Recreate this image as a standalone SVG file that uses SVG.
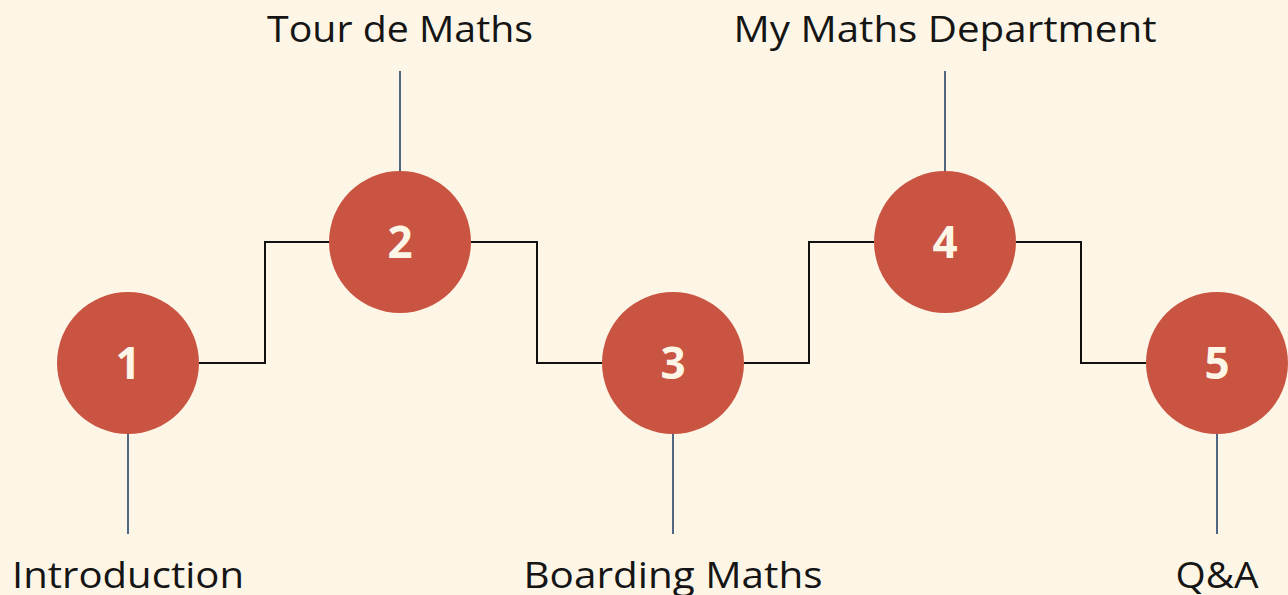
<svg xmlns="http://www.w3.org/2000/svg" width="1288" height="595" viewBox="0 0 1288 595">
  <style>
    .bg { fill: #fdf6e7; }
    .step { fill: #c95441; }
    .num { font-family: "Open Sans", "Liberation Sans", sans-serif; font-weight: 700; font-size: 44px; fill: #fdf6e7; text-anchor: middle; }
    .label { font-family: "Open Sans", "Liberation Sans", sans-serif; font-size: 36px; fill: #151515; text-anchor: middle; }
    .path { fill: none; stroke: #111; stroke-width: 2; }
    .stem { stroke: #4f6783; stroke-width: 2; }
  </style>
  <rect class="bg" x="0" y="0" width="1288" height="595"/>

  <!-- stepped path linking the agenda items -->
  <g id="connectors">
    <polyline class="path" points="199,363 265,363 265,242 330,242"/>
    <polyline class="path" points="471,242 537,242 537,363 602,363"/>
    <polyline class="path" points="744,363 809,363 809,242 874,242"/>
    <polyline class="path" points="1016,242 1081,242 1081,363 1146,363"/>
    <line class="stem" x1="128" y1="434" x2="128" y2="534"/>
    <line class="stem" x1="400" y1="71" x2="400" y2="171"/>
    <line class="stem" x1="673" y1="434" x2="673" y2="534"/>
    <line class="stem" x1="945" y1="71" x2="945" y2="171"/>
    <line class="stem" x1="1217" y1="434" x2="1217" y2="534"/>
  </g>

  <g id="step1">
    <circle class="step" cx="128" cy="363" r="71"/>
    <text class="num" x="128" y="379">1</text>
    <text class="label" x="128" y="588" textLength="232" lengthAdjust="spacingAndGlyphs">Introduction</text>
  </g>
  <g id="step2">
    <circle class="step" cx="400" cy="242" r="71"/>
    <text class="num" x="400" y="258">2</text>
    <text class="label" x="400" y="42" textLength="266" lengthAdjust="spacingAndGlyphs">Tour de Maths</text>
  </g>
  <g id="step3">
    <circle class="step" cx="673" cy="363" r="71"/>
    <text class="num" x="673" y="379">3</text>
    <text class="label" x="673" y="588" textLength="299" lengthAdjust="spacingAndGlyphs">Boarding Maths</text>
  </g>
  <g id="step4">
    <circle class="step" cx="945" cy="242" r="71"/>
    <text class="num" x="945" y="258">4</text>
    <text class="label" x="945" y="42" textLength="423" lengthAdjust="spacingAndGlyphs">My Maths Department</text>
  </g>
  <g id="step5">
    <circle class="step" cx="1217" cy="363" r="71"/>
    <text class="num" x="1217" y="379">5</text>
    <text class="label" x="1217" y="588" textLength="83" lengthAdjust="spacingAndGlyphs">Q&amp;A</text>
  </g>
</svg>
